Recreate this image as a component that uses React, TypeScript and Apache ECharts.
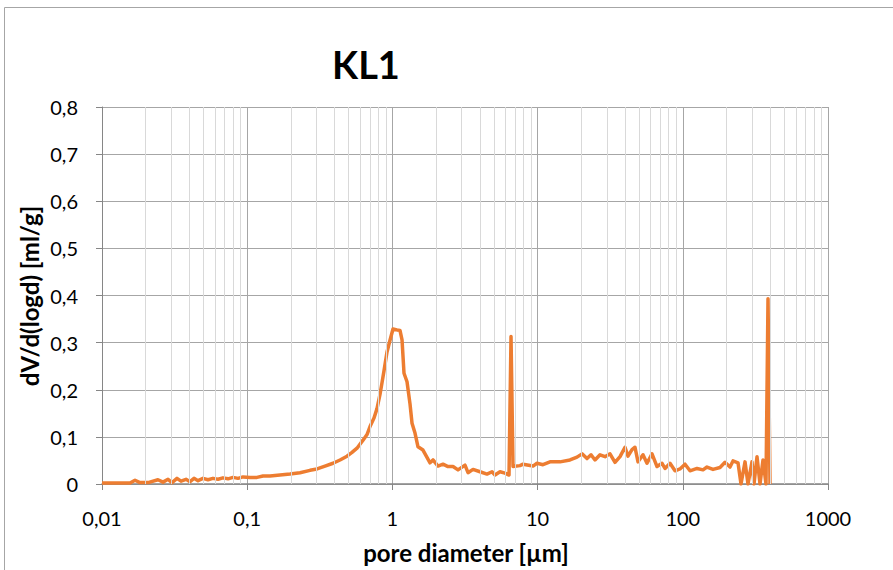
import React, { useEffect, useRef } from "react";
import * as echarts from "echarts";

// pore diameter [µm]
const diameters = [
  0.01, 0.0156, 0.01688, 0.01827, 0.02074, 0.0243, 0.02632, 0.02849, 0.03035, 0.03285,
  0.03501, 0.03789, 0.04038, 0.04302, 0.04584, 0.04962, 0.0537, 0.05814, 0.06294, 0.06812,
  0.07376, 0.07983, 0.08642, 0.09356, 0.1045, 0.1168, 0.1285, 0.1436, 0.1682, 0.1971,
  0.231, 0.2707, 0.3025, 0.3435, 0.3899, 0.4357, 0.4869, 0.5271, 0.5705, 0.6275,
  0.6686, 0.7012, 0.747, 0.7833, 0.8214, 0.8479, 0.8752, 0.918, 0.9627, 1.0095,
  1.0757, 1.128, 1.165, 1.202, 1.261, 1.322, 1.365, 1.431, 1.501, 1.624,
  1.816, 1.904, 2.061, 2.231, 2.415, 2.615, 2.83, 3.162, 3.317, 3.591,
  4.012, 4.482, 4.853, 5.089, 5.508, 5.965, 6.355, 6.56, 6.771, 7.566,
  7.934, 9.297, 9.906, 10.89, 12.17, 14.27, 16.72, 18.68, 20.23, 21.89,
  23.33, 24.85, 26.91, 29.13, 31.52, 34.13, 36.95, 39.99, 41.94, 44.68,
  46.86, 49.15, 53.2, 56.68, 61.38, 66.44, 71.91, 75.41, 81.63, 88.38,
  95.65, 103.6, 112.1, 125.3, 137.8, 146.8, 161.4, 180.4, 195.3, 211.4,
  221.7, 240.0, 251.7, 268.2, 281.2, 299.6, 309.3, 324.4, 340.2, 356.7,
  374.1, 386.2, 398.6,
];

// dV/d(logd) [ml/g]
const volumes = [
  0.002, 0.002, 0.008, 0.003, 0.003, 0.009, 0.004, 0.01, 0.003, 0.012,
  0.006, 0.01, 0.005, 0.012, 0.007, 0.012, 0.009, 0.012, 0.01, 0.013,
  0.011, 0.014, 0.012, 0.015, 0.014, 0.014, 0.017, 0.017, 0.019, 0.021,
  0.024, 0.029, 0.032, 0.038, 0.044, 0.051, 0.059, 0.067, 0.076, 0.093,
  0.105, 0.122, 0.14, 0.16, 0.19, 0.215, 0.24, 0.28, 0.305, 0.329,
  0.327, 0.326, 0.306, 0.235, 0.217, 0.17, 0.129, 0.108, 0.079, 0.072,
  0.045, 0.051, 0.038, 0.042, 0.037, 0.037, 0.03, 0.04, 0.024, 0.031,
  0.026, 0.021, 0.026, 0.019, 0.026, 0.023, 0.019, 0.313, 0.037, 0.039,
  0.042, 0.038, 0.044, 0.041, 0.047, 0.047, 0.051, 0.057, 0.064, 0.054,
  0.062, 0.051, 0.062, 0.058, 0.064, 0.046, 0.058, 0.078, 0.059, 0.073,
  0.078, 0.047, 0.062, 0.044, 0.064, 0.037, 0.044, 0.033, 0.044, 0.028,
  0.032, 0.042, 0.028, 0.033, 0.03, 0.036, 0.031, 0.035, 0.046, 0.036,
  0.049, 0.045, 0, 0.047, 0, 0.047, 0, 0.058, 0, 0.051,
  0, 0.393, 0,
];

const decades = [0.01, 0.1, 1, 10, 100];
const minorMultipliers = [2, 3, 4, 5, 6, 7, 8, 9];

const FONT = "Lato, 'Open Sans', sans-serif";

export default function App() {
  const ref = useRef<HTMLDivElement>(null);

  useEffect(() => {
    document.body.style.margin = "0";
    const chart = echarts.init(ref.current!, null, { renderer: "svg" });
    const minorLines: number[] = [];
    decades.forEach((d) => minorMultipliers.forEach((m) => minorLines.push(Number((d * m).toPrecision(6)))));
    const points = diameters.map((d, i) => [d, volumes[i]]);

    const fmt = (v: number) => Number(Number(v).toPrecision(6)).toString().replace(".", ",");

    chart.setOption({
      animation: false,
      backgroundColor: "#ffffff",
      grid: { left: 102, right: 65, top: 107, bottom: 86 },
      xAxis: {
        type: "log",
        logBase: 10,
        min: 0.01,
        max: 1000,
        splitNumber: 5,
        axisLine: { show: true, onZero: false, lineStyle: { color: "#868686", width: 1.5 } },
        axisTick: { show: true, inside: false, length: 6, lineStyle: { color: "#868686" } },
        axisLabel: { margin: 24, fontFamily: FONT, fontSize: 20, color: "#000", formatter: fmt },
        splitLine: { show: true, lineStyle: { color: "#a6a6a6", width: 1 } },
        minorTick: { show: false },
        minorSplitLine: { show: false },
      },
      yAxis: {
        type: "value",
        min: 0,
        max: 0.8,
        interval: 0.1,
        axisLine: { show: true, lineStyle: { color: "#868686", width: 1 } },
        axisTick: { show: true, inside: false, length: 6, lineStyle: { color: "#868686" } },
        axisLabel: {
          margin: 24,
          fontFamily: FONT,
          fontSize: 20,
          color: "#000",
          formatter: (v: number) => (v === 0 ? "0" : v.toFixed(1).replace(".", ",")),
        },
        splitLine: { show: true, lineStyle: { color: "#a6a6a6", width: 1 } },
      },
      graphic: [
        {
          type: "rect",
          silent: true,
          shape: { x: 4.5, y: 7.5, width: 1000, height: 1000 },
          style: { fill: "none", stroke: "#a6a6a6", lineWidth: 1 },
        },
        {
          type: "text",
          x: 366,
          y: 64,
          style: {
            text: "KL1",
            font: `bold 38px ${FONT}`,
            fill: "#000",
            textAlign: "center",
            textVerticalAlign: "middle",
          },
        },
        {
          type: "text",
          x: 466,
          y: 552,
          style: {
            text: "pore diameter [µm]",
            font: `bold 24px ${FONT}`,
            fill: "#000",
            textAlign: "center",
            textVerticalAlign: "middle",
          },
        },
        {
          type: "text",
          x: 29,
          y: 296,
          rotation: Math.PI / 2,
          style: {
            text: "dV/d(logd) [ml/g]",
            font: `bold 24px ${FONT}`,
            fill: "#000",
            textAlign: "center",
            textVerticalAlign: "middle",
          },
        },
      ],
      series: [
        {
          type: "line",
          z: 1,
          silent: true,
          data: [[0.01, 0]],
          showSymbol: false,
          lineStyle: { opacity: 0 },
          markLine: {
            silent: true,
            symbol: "none",
            label: { show: false },
            lineStyle: { color: "#d9d9d9", width: 1, type: "solid" },
            data: minorLines.map((v) => ({ xAxis: v })),
          },
        },
        {
          type: "line",
          z: 3,
          data: points,
          showSymbol: false,
          symbol: "none",
          lineStyle: { color: "#ED7D31", width: 3.5, join: "round" },
          itemStyle: { color: "#ED7D31" },
        },
      ],
    });
    return () => chart.dispose();
  }, []);

  return <div ref={ref} style={{ position: "fixed", left: 0, top: 0, width: 893, height: 570 }} />;
}
